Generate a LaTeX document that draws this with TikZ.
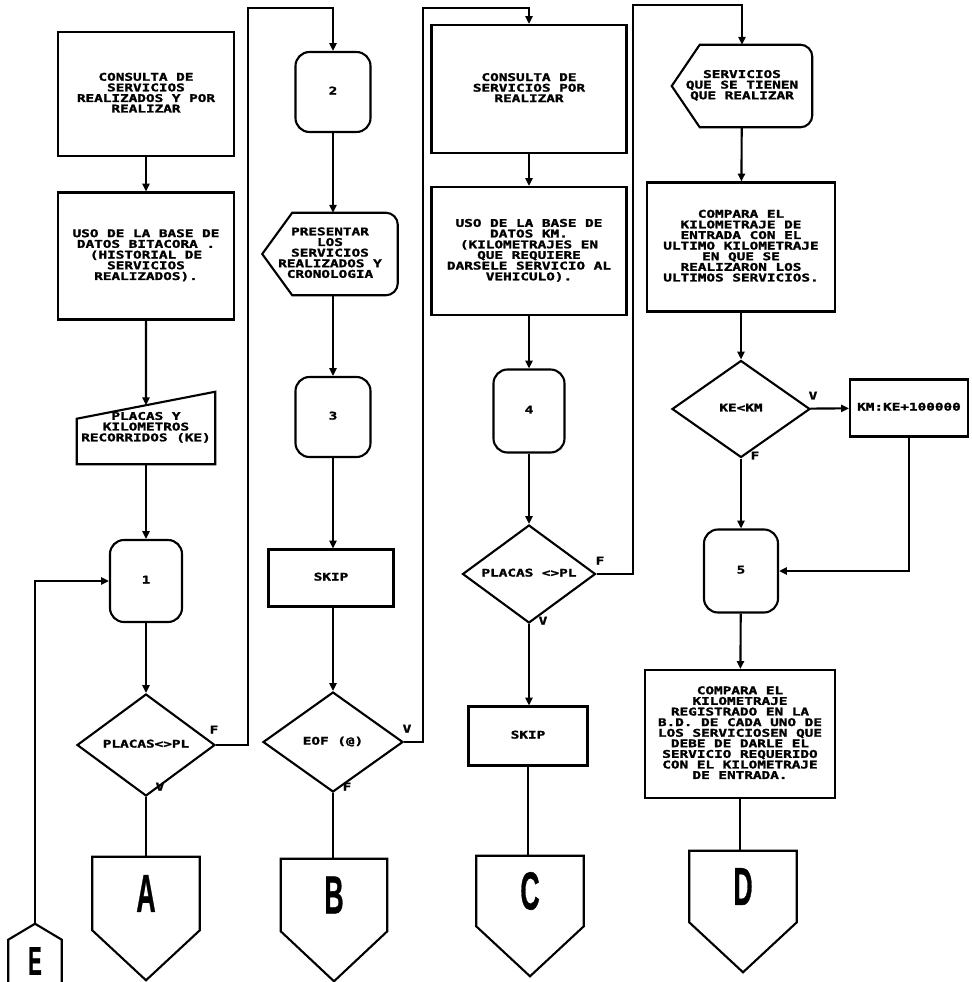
\documentclass[tikz,border=0pt]{standalone}
\usepackage{fontspec}
\usepackage{graphicx}
\usetikzlibrary{arrows.meta,shapes.geometric,calc}
\newfontfamily\dotfont[FakeBold=1.6]{DejaVu Sans Mono}
\newfontfamily\bigfont[FakeBold=1]{Liberation Sans}
\newcommand{\dm}[1]{\scalebox{1}[0.74]{\dotfont\bfseries\fontsize{10.2}{8.8}\selectfont\begin{tabular}{@{}c@{}}#1\end{tabular}}}
\newcommand{\letra}[1]{\scalebox{0.95}[1.9]{\bigfont\bfseries\fontsize{20}{20}\selectfont #1}}
\tikzset{
  caja/.style 2 args={draw, line width=1.5pt, minimum width=#1, minimum height=#2, inner sep=0pt},
  redondo/.style 2 args={draw, line width=1.5pt, rounded corners=3.5mm, minimum width=#1, minimum height=#2, inner sep=0pt},
  decision/.style 2 args={diamond, draw, line width=1.5pt, aspect=1.4, minimum width=#1, minimum height=#2, inner sep=0pt},
  hueco/.style 2 args={minimum width=#1, minimum height=#2, inner sep=0pt},
  flecha/.style={-{Triangle[length=5.5pt,width=5pt]}, line width=1.5pt},
  linea/.style={line width=1.5pt}
}

\begin{document}
\begin{tikzpicture}[x=0.25mm, y=-0.25mm]
    \useasboundingbox (0,0) rectangle (971,982);

    % columna 1
    \node[caja={44mm}{31mm}] (c1a) at (146,94) {\dm{CONSULTA DE\\SERVICIOS\\REALIZADOS Y POR\\REALIZAR}};
    \node[caja={44mm}{31.75mm}] (c1b) at (146,256) {\dm{USO DE LA BASE DE\\DATOS BITACORA .\\(HISTORIAL DE\\SERVICIOS\\REALIZADOS).}};
    \node[hueco={34.5mm}{18mm}] (placas) at (146,428) {\dm{PLACAS Y\\KILOMETROS\\RECORRIDOS (KE)}};
    \node[redondo={18mm}{20.5mm}] (n1) at (146,581) {\dm{1}};
    \node[decision={34.5mm}{25.5mm}] (d1) at (146,745) {\dm{PLACAS<>PL}};
    \node[hueco={26.75mm}{18.25mm}] (pA) at (146,893.5) {\letra{A}};

    % columna 2
    \node[redondo={18.75mm}{20mm}] (n2) at (333,92) {\dm{2}};
    \node[hueco={33.75mm}{20.5mm}] (pres) at (330,254) {\dm{PRESENTAR\\LOS\\SERVICIOS\\REALIZADOS Y\\CRONOLOGIA}};
    \node[redondo={18.75mm}{20mm}] (n3) at (333,417) {\dm{3}};
    \node[caja={31.25mm}{14.25mm}] (skip1) at (331,578) {\dm{SKIP}};
    \node[decision={35mm}{25mm}] (d2) at (333,742) {\dm{EOF (@)}};
    \node[hueco={26.5mm}{18mm}] (pB) at (334,895) {\letra{B}};

    % columna 3
    \node[caja={48.75mm}{32mm}] (c3a) at (529,89) {\dm{CONSULTA DE\\SERVICIOS POR\\REALIZAR}};
    \node[caja={48.75mm}{32mm}] (c3b) at (529,251) {\dm{USO DE LA BASE DE\\DATOS KM.\\(KILOMETRAJES EN\\QUE REQUIERE\\DARSELE SERVICIO AL\\VEHICULO).}};
    \node[redondo={17.75mm}{20.75mm}] (n4) at (529,411) {\dm{4}};
    \node[decision={33.25mm}{24.5mm}] (d3) at (529,574) {\dm{PLACAS <>PL}};
    \node[caja={29.75mm}{14.75mm}] (skip2) at (528,736) {\dm{SKIP}};
    \node[hueco={26.75mm}{17.5mm}] (pC) at (530,891) {\letra{C}};

    % columna 4
    \node[hueco={35mm}{20.5mm}] (serv) at (742,86) {\dm{SERVICIOS\\QUE SE TIENEN\\QUE REALIZAR}};
    \node[caja={47mm}{32.25mm}] (c4a) at (741,247) {\dm{COMPARA EL\\KILOMETRAJE DE\\ENTRADA CON EL\\ULTIMO KILOMETRAJE\\EN QUE SE\\REALIZARON LOS\\ULTIMOS SERVICIOS.}};
    \node[decision={34.5mm}{24.25mm}] (d4) at (741,409) {\dm{KE<KM}};
    \node[caja={29.5mm}{14.25mm}] (km) at (909,408) {\dm{KM:KE+100000}};
    \node[redondo={18.5mm}{20.75mm}] (n5) at (741,571) {\dm{5}};
    \node[caja={47.5mm}{32mm}] (c4b) at (740,734) {\dm{COMPARA EL\\KILOMETRAJE\\REGISTRADO EN LA\\B.D. DE CADA UNO DE\\LOS SERVICIOSEN QUE\\DEBE DE DARLE EL\\SERVICIO REQUERIDO\\CON EL KILOMETRAJE\\DE ENTRADA.}};
    \node[hueco={26.75mm}{17.75mm}] (pD) at (743,886.5) {\letra{D}};

    % conector E
    \node[hueco={13.25mm}{10.5mm}] (pE) at (35,961) {\scalebox{0.75}{\letra{E}}};
    \coordinate (eTop) at ($(pE.north)+(0,-16)$);

    % etiquetas de las decisiones
    \node (f1) at (214,731) {\dm{F}};
    \node (v1) at (160,788) {\dm{V}};
    \node (v2) at (407,730) {\dm{V}};
    \node (f2) at (347,788) {\dm{F}};
    \node (f3) at (600,562) {\dm{F}};
    \node (v3) at (543,622) {\dm{V}};
    \node (v4) at (813,397) {\dm{V}};
    \node (f4) at (755,457) {\dm{F}};

    % esquinas de las lineas de retorno
    \coordinate (t1) at (248,8);
    \coordinate (t2) at (423,8);
    \coordinate (t3) at (633,5);

    % entrada manual
    \coordinate (tl) at ($(placas.north west)+(0,27)$);
    \draw[linea] (placas.south west) -- (placas.south east) -- (placas.north east) -- (tl) -- cycle;

    % pantallas
    \foreach \n/\o in {pres/30, serv/28}
        \draw[linea] (\n.west) -- ($(\n.north west)+(\o,0)$) [rounded corners=3mm] -- (\n.north east) -- (\n.south east) [sharp corners] -- ($(\n.south west)+(\o,0)$) -- cycle;

    % conectores fuera de pagina
    \foreach \p in {pA,pB,pC,pD}
        \draw[linea] (\p.north west) -- (\p.south west) -- ($(\p.south)+(0,50)$) -- (\p.south east) -- (\p.north east) -- cycle;
    \draw[linea] (pE.south west) -- (pE.north west) -- (eTop) -- (pE.north east) -- (pE.south east);

    % flujo columna 1
    \draw[flecha] (c1a) -- (c1b);
    \draw[flecha] (c1b) -- ($(tl)!0.5!(placas.north east)$);
    \draw[flecha] (placas) -- (n1);
    \draw[flecha] (n1) -- (d1);
    \draw[linea] (d1) -- (pA);
    \draw[flecha] (d1.east) -| (t1) -| (n2.north);
    \draw[flecha] (eTop) |- (n1.west);

    % flujo columna 2
    \draw[flecha] (n2) -- (n2 |- pres.north);
    \draw[flecha] (pres.south -| n2) -- (n3);
    \draw[flecha] (n3) -- (n3 |- skip1.north);
    \draw[flecha] (skip1.south -| n3) -- (d2);
    \draw[linea] (d2) -- (d2 |- pB.north);
    \draw[flecha] (d2.east) -| (t2) -| (c3a.north);

    % flujo columna 3
    \draw[flecha] (c3a) -- (c3b);
    \draw[flecha] (c3b) -- (n4);
    \draw[flecha] (n4) -- (d3);
    \draw[flecha] (d3) -- (d3 |- skip2.north);
    \draw[linea] (skip2) -- (skip2 |- pC.north);
    \draw[flecha] (d3.east) -| (t3) -| (serv.north);

    % flujo columna 4
    \draw[flecha] (serv) -- (c4a);
    \draw[flecha] (c4a) -- (d4);
    \draw[flecha] (d4) -- (km);
    \draw[flecha] (d4) -- (n5);
    \draw[flecha] (km.south) |- (n5.east);
    \draw[flecha] (n5) -- (c4b);
    \draw[linea] (c4b) -- (c4b |- pD.north);
\end{tikzpicture}
\end{document}
